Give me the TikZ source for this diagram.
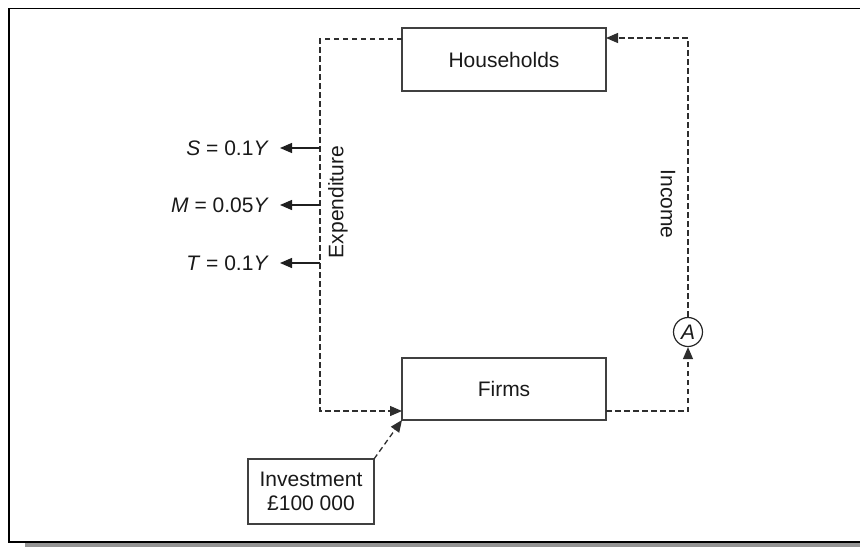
\documentclass[tikz,border=0pt]{standalone}
\usepackage{fontspec}
\setmainfont{Liberation Sans}
\usetikzlibrary{arrows.meta}
\begin{document}
\begin{tikzpicture}[x=1pt,y=-1pt,
  every node/.style={font=\fontsize{21}{24}\selectfont, text=black!90},
  box/.style={draw=black!75, line width=1.4pt, inner sep=0pt, outer sep=0pt},
  flow/.style={draw=black!82, line width=1.3pt, dash pattern=on 5.5pt off 3.5pt},
  tip/.style={-{Triangle[length=12pt,width=10pt]}},
  leak/.style={draw=black!88, line width=1.3pt},
  leaklabel/.style={anchor=east, inner xsep=11pt, inner ysep=0pt},
  circ/.style={circle, draw=black!85, line width=1.2pt, minimum size=29pt, inner sep=0pt}]
\useasboundingbox (0,0) rectangle (860,547);
% frame
\fill[black!42] (25,542.8) rectangle (860,547);
\draw[line width=1.6pt] (860,8.5) -- (9,8.5) -- (9,542) -- (860,542);
% boxes
\node[box, minimum width=204pt, minimum height=63pt] (H) at (504,59.5) {Households};
\node[box, minimum width=204pt, minimum height=62pt] (F) at (504,389) {Firms};
\node[box, minimum width=126pt, minimum height=65pt, align=center] (I) at (311,491.5) {Investment\\£100 000};
\node[circ] (A) at (688,332) {\textit{A}};
% left loop
\coordinate (hl) at (320,39);
\coordinate (fl) at (320,411);
\draw[flow,tip] (H.west |- hl) -- (hl) -- (fl) -- (F.west |- fl);
% right loop
\coordinate (fr) at (688,411);
\coordinate (hr) at (688,38);
\draw[flow,tip] (F.east |- fr) -- (fr) -- (A.south);
\draw[flow,tip] (A.north) -- (hr) -- (H.east |- hr);
% investment
\draw[flow,tip] (I.north east) -- (F.south west);
% leakages
\node[leaklabel] (S) at (280,148) {\textit{S} = 0.1\textit{Y}};
\node[leaklabel] (M) at (280,205) {\textit{M} = 0.05\textit{Y}};
\node[leaklabel] (T) at (280,263) {\textit{T} = 0.1\textit{Y}};
\coordinate (s0) at (320,148);
\coordinate (m0) at (320,205);
\coordinate (t0) at (320,263);
\draw[leak,tip] (s0) -- (S.east);
\draw[leak,tip] (m0) -- (M.east);
\draw[leak,tip] (t0) -- (T.east);
% rotated labels
\node[rotate=90, inner sep=0pt] (exp) at (338,202) {Expenditure};
\node[rotate=-90, inner sep=0pt] (inc) at (668,204) {Income};
\end{tikzpicture}
\end{document}
